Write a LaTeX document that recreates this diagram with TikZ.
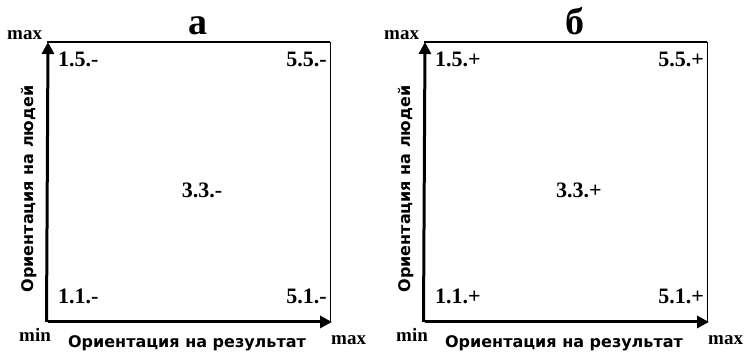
\documentclass[tikz,border=0pt]{standalone}
\usepackage{fontspec}
\setmainfont{Liberation Serif}
\newfontfamily\axfont{DejaVu Sans}
\usetikzlibrary{arrows.meta}
\tikzset{
  axisline/.style={line width=3pt,-{Triangle[length=12pt,width=12pt]}},
  frameline/.style={line width=1.3pt},
  sideline/.style={line width=0.9pt},
  cornerlbl/.style={font=\fontsize{22}{22}\selectfont\bfseries,inner sep=0pt},
  endlbl/.style={font=\fontsize{19}{19}\selectfont\bfseries,inner sep=0pt},
  titlelbl/.style={font=\fontsize{38}{38}\selectfont\bfseries,inner sep=0pt},
  axlbl/.style={font=\axfont\fontsize{16}{16}\selectfont\bfseries,inner sep=0pt}
}
\begin{document}
\begin{tikzpicture}[x=1pt,y=-1pt]
\useasboundingbox (0,0) rectangle (745,352);
\foreach \dx/\sg/\tt/\nm in {0/-/а/L,377/+/б/R}{
  \begin{scope}[xshift=\dx pt]
    \coordinate (O\nm) at (48,322);
    \coordinate (Y\nm) at (48,42);
    \coordinate (X\nm) at (332,322);
    \coordinate (TR\nm) at (330,42);
    \coordinate (BR\nm) at (330,322);
    \draw[frameline] (47,42) -- (TR\nm);
    \draw[sideline] (TR\nm) -- (BR\nm);
    \draw[axisline] (46.5,322) -- (Y\nm);
    \draw[axisline] (O\nm) -- (X\nm);
    \node[titlelbl,anchor=base] (t\nm) at (198,35) {\tt};
    \node[endlbl,anchor=base west] (ymax\nm) at (7,40) {max};
    \node[endlbl,anchor=base west] (min\nm) at (19,342) {min};
    \node[endlbl,anchor=base west] (xmax\nm) at (331,345) {max};
    \node[axlbl,anchor=base] (xl\nm) at (187,348) {Ориентация на результат};
    \node[axlbl,anchor=base,rotate=90] (yl\nm) at (33,189) {Ориентация на людей};
    \node[cornerlbl,anchor=base west] (a15\nm) at (58,67) {1.5.\sg};
    \node[cornerlbl,anchor=base east] (a55\nm) at (327,67) {5.5.\sg};
    \node[cornerlbl,anchor=base] (a33\nm) at (202,198) {3.3.\sg};
    \node[cornerlbl,anchor=base west] (a11\nm) at (58,304) {1.1.\sg};
    \node[cornerlbl,anchor=base east] (a51\nm) at (327,304) {5.1.\sg};
  \end{scope}
}
\end{tikzpicture}
\end{document}
